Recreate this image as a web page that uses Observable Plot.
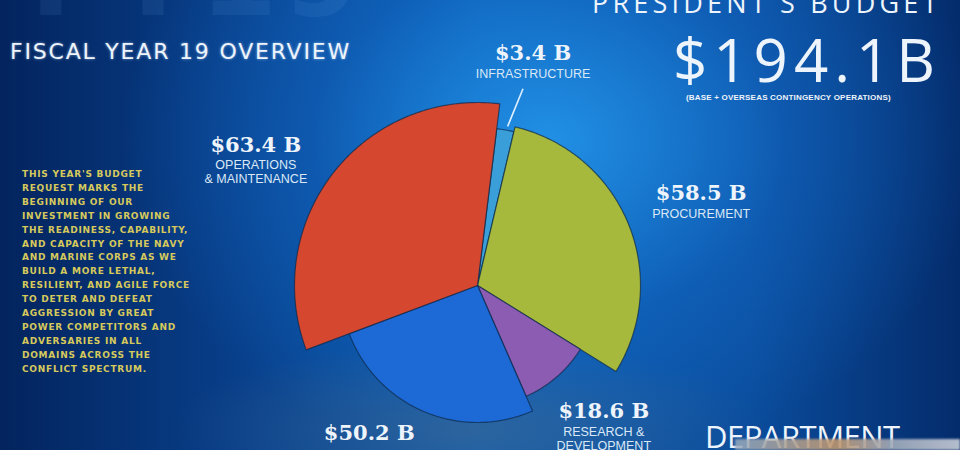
<!DOCTYPE html>
<html><head><meta charset="utf-8">
<script src="https://cdn.jsdelivr.net/npm/d3@7"></script>
<script src="https://cdn.jsdelivr.net/npm/@observablehq/plot@0.6"></script>
<style>
html,body{margin:0;padding:0;background:#06347a;}
#stage{position:relative;width:960px;height:450px;overflow:hidden;
background:
 radial-gradient(ellipse 300px 90px at 470px 430px, rgba(70,105,140,0.55), rgba(40,80,120,0) 100%),
 radial-gradient(ellipse 430px 330px at 550px 140px, rgba(35,150,235,0.9), rgba(20,110,205,0.45) 55%, rgba(0,0,0,0) 100%),
 linear-gradient(90deg,#03245e 0%, #083f8a 25%, #0c5db2 50%, #0a4c9c 78%, #042c6c 100%);}
#stage svg{position:absolute;left:0;top:0;}
.t{position:absolute;white-space:nowrap;color:#eef4fb;line-height:1;}
#fy{left:30px;top:-80px;font:bold 112px/1 "DejaVu Sans",sans-serif;color:rgba(120,175,235,0.10);letter-spacing:6px;}
#title{left:10px;top:41px;font:22px/1 "DejaVu Sans",sans-serif;letter-spacing:1.8px;text-shadow:0 0 3px rgba(200,230,255,0.6);}
#pres{left:592px;top:-11px;font:27px/1 "Open Sans",sans-serif;letter-spacing:4.2px;}
#big{left:673px;top:29px;font:400 60px/1 "Open Sans",sans-serif;letter-spacing:6px;}
#base{left:686px;top:94px;font:bold 8px/1 "Liberation Sans Narrow","Liberation Sans",sans-serif;letter-spacing:0.2px;}
#para{left:22px;top:168px;font:bold 9px/13.9px "DejaVu Sans",sans-serif;color:#d6c95c;letter-spacing:0.75px;}
#dept{left:705px;top:421px;font:31px/1 "Open Sans",sans-serif;letter-spacing:-0.5px;}
#photo{left:735px;top:439px;width:225px;height:11px;background:linear-gradient(90deg,rgba(150,170,190,0.85),rgba(190,150,110,0.9) 45%,rgba(160,170,185,0.9) 70%,rgba(200,205,215,0.9));filter:blur(1px);}
</style></head>
<body><div id="stage">
<div class="t" id="fy">FY19</div>
<div class="t" id="title">FISCAL YEAR 19 OVERVIEW</div>
<div class="t" id="pres">PRESIDENT'S BUDGET</div>
<div class="t" id="big">$194.1B</div>
<div class="t" id="base">(BASE + OVERSEAS CONTINGENCY OPERATIONS)</div>
<div class="t" id="para"></div>
<div class="t" id="dept">DEPARTMENT</div>
<div class="t" id="photo"></div>
</div>
<script>
// ---- data ----
const categories = ["Infrastructure", "Procurement", "Research & Development", "Military Personnel", "Operations & Maintenance"];
const values = [3.4, 58.5, 18.6, 50.2, 63.4];
const valueLabels = ["$3.4 B", "$58.5 B", "$18.6 B", "$50.2 B", "$63.4 B"];
// the reference crops the caption under $50.2 B, so it has no visible sub-label
const subLabels = [["INFRASTRUCTURE"], ["PROCUREMENT"], ["RESEARCH &", "DEVELOPMENT"], [], ["OPERATIONS", "& MAINTENANCE"]];
const paragraph = ["THIS YEAR'S BUDGET", "REQUEST MARKS THE", "BEGINNING OF OUR", "INVESTMENT IN GROWING",
  "THE READINESS, CAPABILITY,", "AND CAPACITY OF THE NAVY", "AND MARINE CORPS AS WE", "BUILD A MORE LETHAL,",
  "RESILIENT, AND AGILE FORCE", "TO DETER AND DEFEAT", "AGGRESSION BY GREAT", "POWER COMPETITORS AND",
  "ADVERSARIES IN ALL", "DOMAINS ACROSS THE", "CONFLICT SPECTRUM."];

// ---- style ----
const colors = ["#3a9fd8", "#a6b93c", "#8c5cb2", "#1d6ad6", "#d6472f"];
const radius = [158, 163, 121, 137, 183];
const labelDist = [236, 242, 179, 186, 263];
const labelDx = [14, 0, 9, -36, -15];
const labelDy = [0, 0, -9, -24, 22];
const startDeg = 7;

document.getElementById("para").innerHTML = paragraph.join("<br>");

const rows = categories.map((c, i) => ({name: c, value: values[i], i}));
const arcs = d3.pie().sort(null).value(d => d.value)
  .startAngle(startDeg * Math.PI / 180).endAngle(startDeg * Math.PI / 180 + 2 * Math.PI)(rows);

const pts = [];
arcs.forEach(a => {
  const r = radius[a.data.i];
  pts.push({name: a.data.name, x: 0, y: 0});
  const n = Math.max(2, Math.ceil((a.endAngle - a.startAngle) / 0.01));
  for (let k = 0; k <= n; k++) {
    const t = a.startAngle + (a.endAngle - a.startAngle) * k / n;
    pts.push({name: a.data.name, x: r * Math.sin(t), y: r * Math.cos(t)});
  }
  pts.push({name: a.data.name, x: 0, y: 0});
});

const labels = arcs.map(a => {
  const i = a.data.i, m = (a.startAngle + a.endAngle) / 2, d = labelDist[i];
  return {i, text: valueLabels[i], sub: subLabels[i], x: d * Math.sin(m), y: d * Math.cos(m), dx: labelDx[i], dy: labelDy[i]};
});
const subRows = labels.flatMap(l => l.sub.map((s, j) => ({...l, text: s, dy: l.dy + 20.5 + j * 13.5})));

const infra = arcs[0];
const mi = (infra.startAngle + infra.endAngle) / 2 + 0.01;
const leader = [{x1: 162 * Math.sin(mi), y1: 162 * Math.cos(mi), x2: 202 * Math.sin(mi + 0.04), y2: 202 * Math.cos(mi + 0.04)}];

const chart = Plot.plot({
  width: 960, height: 450, margin: 0,
  x: {domain: [-477, 483], axis: null},
  y: {domain: [-165, 285], axis: null},
  color: {domain: categories, range: colors},
  style: {background: "transparent", overflow: "visible"},
  marks: [
    Plot.line(pts, {x: "x", y: "y", z: "name", fill: "name", stroke: "#0d2a4a", strokeWidth: 1.2, strokeOpacity: 0.7, curve: "linear"}),
    Plot.link(leader, {x1: "x1", y1: "y1", x2: "x2", y2: "y2", stroke: "#dfefff", strokeWidth: 1.6}),
    ...labels.map(l => Plot.text([l], {x: "x", y: "y", text: "text", dx: l.dx, dy: l.dy, fill: "#eef4fb",
      fontSize: 21, fontWeight: "bold", fontFamily: "DejaVu Serif, serif", textAnchor: "middle", lineAnchor: "middle"})),
    ...subRows.map(l => Plot.text([l], {x: "x", y: "y", text: "text", dx: l.dx, dy: l.dy, fill: "#dbe8f6",
      fontSize: 12.5, fontFamily: "Liberation Sans, sans-serif", textAnchor: "middle", lineAnchor: "middle"}))
  ]
});
document.getElementById("stage").insertBefore(chart, document.getElementById("fy").nextSibling);
</script>
</body></html>
